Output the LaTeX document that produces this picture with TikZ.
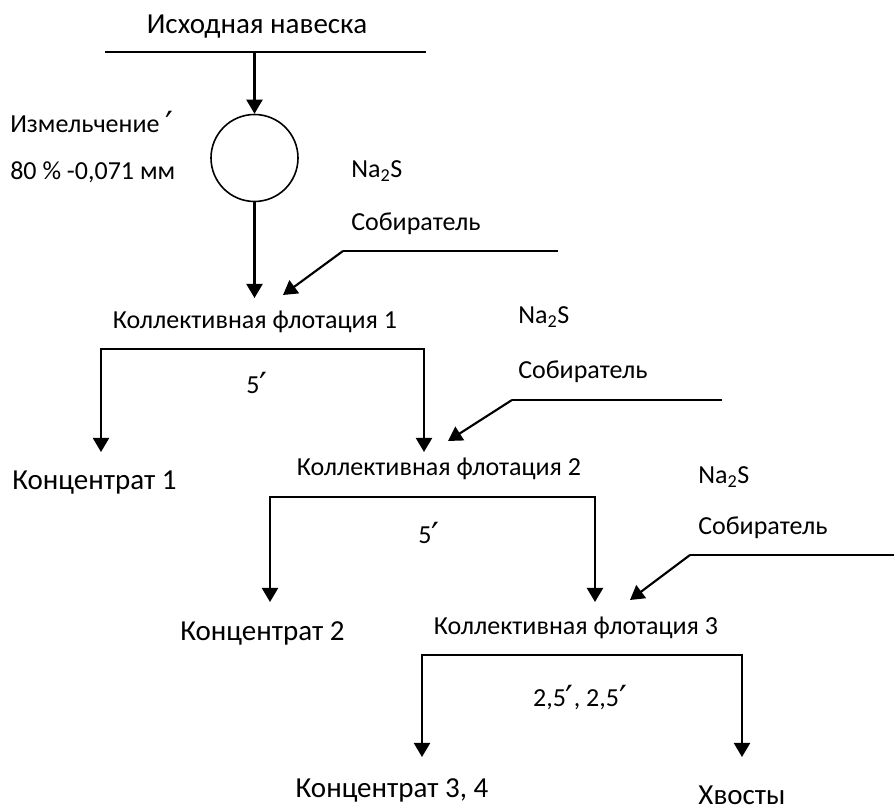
\documentclass[tikz,border=0pt]{standalone}
\usepackage{fontspec}
\setmainfont{Carlito}
\newfontfamily\symfont{DejaVu Sans}
\newcommand{\pr}{{\symfont\fontsize{26}{26}\selectfont\raisebox{-0.12em}{\char"2032}}}
\usetikzlibrary{arrows.meta}
\tikzset{
  big/.style={font=\fontsize{21.75}{24}\selectfont, inner sep=0pt},
  small/.style={font=\fontsize{19.5}{22}\selectfont, inner sep=0pt},
  flow/.style={line width=1.6pt, -{Triangle[width=12pt,length=10.5pt]}},
  plain/.style={line width=1.2pt},
}
\begin{document}
\begin{tikzpicture}[x=0.75pt,y=-0.75pt]
\useasboundingbox (0,0) rectangle (894,812);
% texts
\node[big] (src) at (257,27) {Исходная навеска};
\node[small,anchor=west] (grind) at (10,124) {Измельчение \pr};
\node[small,anchor=west] (size) at (10,172) {80 \% -0,071 мм};
\node[small,anchor=west] (na1) at (351,171) {Na\textsubscript{2}S};
\node[small,anchor=west] (col1) at (351,224) {Собиратель};
\node[small] (f1) at (255,322) {Коллективная флотация 1};
\node[small] (t1) at (257,385) {5\pr};
\node[big,anchor=west] (c1) at (12,483) {Концентрат 1};
\node[small,anchor=west] (na2) at (518,317) {Na\textsubscript{2}S};
\node[small,anchor=west] (col2) at (518,372) {Собиратель};
\node[small] (f2) at (439,469) {Коллективная флотация 2};
\node[small] (t2) at (429,535) {5\pr};
\node[small,anchor=west] (na3) at (698,477) {Na\textsubscript{2}S};
\node[small,anchor=west] (col3) at (698,528) {Собиратель};
\node[small] (f3) at (576,628) {Коллективная флотация 3};
\node[big,anchor=west] (c2) at (180,633) {Концентрат 2};
\node[small] (t3) at (580,698) {2,5\pr, 2,5\pr};
\node[big] (c34) at (392,790) {Концентрат 3, 4};
\node[big] (tail) at (742,795) {Хвосты};
% mill
\node[draw,circle,line width=1.2pt,minimum size=87pt*0.75,inner sep=0pt] (mill) at (254.5,158) {};
% coordinates
\coordinate (topL) at (105,52);
\coordinate (topR) at (426,52);
\coordinate (topM) at (254.5,52);
\coordinate (a2end) at (254.5,298);
\coordinate (r1a) at (558,251);
\coordinate (r1b) at (343,251);
\coordinate (r1c) at (283,295);
\coordinate (b1L) at (101,349);
\coordinate (b1R) at (424,349);
\coordinate (b1Le) at (101,452);
\coordinate (b1Re) at (424,452);
\coordinate (r2a) at (722,400);
\coordinate (r2b) at (512,400);
\coordinate (r2c) at (448,441);
\coordinate (b2L) at (270,497);
\coordinate (b2R) at (595,497);
\coordinate (b2Le) at (270,602);
\coordinate (b2Re) at (595,602);
\coordinate (r3a) at (894,555);
\coordinate (r3b) at (690,555);
\coordinate (r3c) at (630,600);
\coordinate (b3L) at (422,655);
\coordinate (b3R) at (742,655);
\coordinate (b3Le) at (422,757);
\coordinate (b3Re) at (742,757);
% lines
\draw[plain] (topL) -- (topR);
\draw[flow] (topM) -- (mill.north);
\draw[flow] (mill.south) -- (a2end);
\draw[plain] (r1a) -- (r1b);
\draw[flow] (r1b) -- (r1c);
\draw[flow] (b1R) -- (b1L) -- (b1Le);
\draw[flow] (b1L) -- (b1R) -- (b1Re);
\draw[plain] (r2a) -- (r2b);
\draw[flow] (r2b) -- (r2c);
\draw[flow] (b2R) -- (b2L) -- (b2Le);
\draw[flow] (b2L) -- (b2R) -- (b2Re);
\draw[plain] (r3a) -- (r3b);
\draw[flow] (r3b) -- (r3c);
\draw[flow] (b3R) -- (b3L) -- (b3Le);
\draw[flow] (b3L) -- (b3R) -- (b3Re);
\end{tikzpicture}
\end{document}
